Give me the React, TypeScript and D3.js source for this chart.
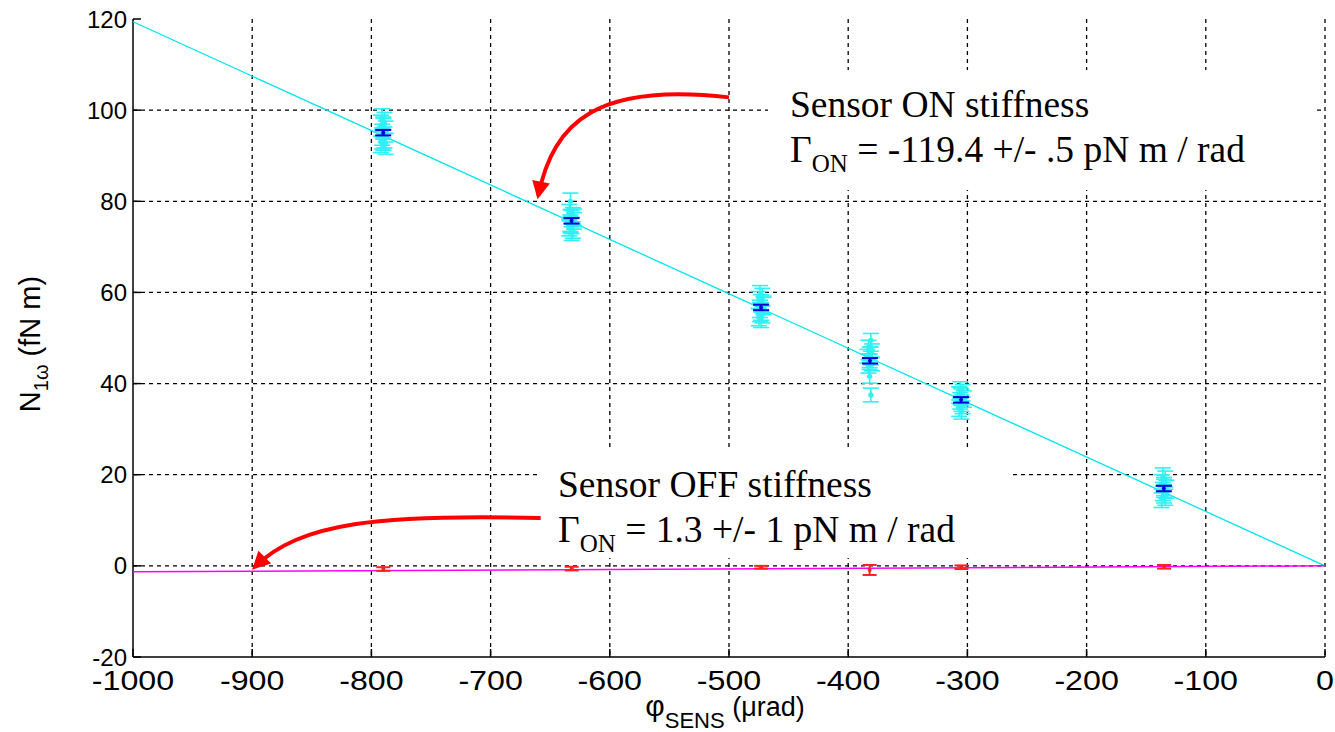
import React from 'react';
import * as d3 from 'd3';

// Axis ticks
const xTicks = [-1000, -900, -800, -700, -600, -500, -400, -300, -200, -100, 0];
const yTicks = [-20, 0, 20, 40, 60, 80, 100, 120];

// Sensor ON: individual torque measurements at each actuation setting (phi in µrad, torque in fN m)
const onPhi = [
  [-791, -789, -792, -790, -788, -791, -789, -790, -792, -788, -790, -791],
  [-633, -634, -631, -632, -630, -633, -632, -634, -631, -632, -630, -633],
  [-474, -472, -475, -473, -471, -474, -473, -472, -475, -473, -471, -474],
  [-381, -383, -380, -382, -384, -381, -382, -380, -383, -382, -381],
  [-306, -304, -307, -305, -303, -306, -305, -304, -307, -305, -306],
  [-136, -134, -137, -135, -133, -136, -135, -134, -137, -135],
];
const onTorque = [
  [98.0, 97.2, 96.6, 95.9, 95.3, 94.6, 94.0, 93.5, 93.0, 92.6, 96.2, 93.8],
  [80.0, 77.5, 76.8, 76.2, 75.7, 75.2, 74.7, 74.2, 73.7, 73.2, 76.5, 74.9],
  [59.6, 59.0, 58.3, 57.6, 57.0, 56.4, 55.8, 55.2, 54.6, 54.2, 57.3, 55.5],
  [49.5, 48.0, 47.2, 46.5, 46.0, 45.6, 45.0, 44.3, 43.8, 41.6, 37.5],
  [38.6, 38.0, 37.5, 37.0, 36.6, 36.2, 35.7, 35.2, 34.6, 34.0, 37.3],
  [19.5, 18.8, 18.0, 17.4, 16.8, 16.3, 15.8, 15.3, 14.8, 17.0],
];
const onErr = [2.3, 1.8, 1.9, 1.5, 1.8, 2.0];
const meanErr = [0.6, 0.6, 0.6, 0.6, 0.6, 0.6];

// Sensor OFF: averaged torque at each setting
const offPhi = [-790, -632, -473, -382, -305, -135];
const offTorque = [-0.7, -0.6, -0.3, -0.9, -0.3, -0.2];
const offErr = [0.4, 0.4, 0.3, 1.1, 0.4, 0.4];

// Fitted stiffness (pN m / rad); torque[fN m] = gamma * phi[µrad] * 1e-3
const gammaOn = -119.4;
const gammaOff = 1.3;
const fitRange = [-1000, 0];

// Annotation arrows: [start, tip] in data units
const arrowOn = { from: [-500, 102.8], tip: [-660, 81.2] };
const arrowOff = { from: [-658, 10.5], tip: [-898, -0.3] };

const W = 1335;
const H = 732;

export default function App() {
  const x = d3.scaleLinear().domain([-1000, 0]).range([133, 1325]);
  const y = d3.scaleLinear().domain([-20, 120]).range([657, 19]);

  const fitPath = (gamma: number) =>
    d3
      .line<number>()
      .x((p) => x(p))
      .y((p) => y(gamma * p * 1e-3))(fitRange) as string;

  const curve = (a: { from: number[]; tip: number[] }, c1: number[], c2: number[]) => {
    const p0 = [x(a.from[0]), y(a.from[1])];
    const p3 = [x(a.tip[0]), y(a.tip[1])];
    const path = d3.path();
    path.moveTo(p0[0], p0[1]);
    path.bezierCurveTo(p0[0] + c1[0], p0[1] + c1[1], p3[0] + c2[0], p3[1] + c2[1], p3[0], p3[1]);
    return path.toString();
  };

  const errBar = (px: number, t: number, e: number, color: string, key: string, sw = 1.5, cap = 8) => (
    <g key={key} stroke={color} strokeWidth={sw}>
      <line x1={px} x2={px} y1={y(t + e)} y2={y(t - e)} />
      <line x1={px - cap} x2={px + cap} y1={y(t + e)} y2={y(t + e)} />
      <line x1={px - cap} x2={px + cap} y1={y(t - e)} y2={y(t - e)} />
    </g>
  );

  const tickFont = "'Liberation Sans', Arial, sans-serif";
  const serif = "'Liberation Serif', 'Times New Roman', serif";
  const cyan = '#2ef0f5';

  return (
    <svg
      width={W}
      height={H}
      style={{ position: 'absolute', left: 0, top: 0, background: '#fff' }}
    >
      <defs>
        <marker
          id="redHead"
          viewBox="0 0 10 10"
          refX="8"
          refY="5"
          markerWidth="20"
          markerHeight="18"
          markerUnits="userSpaceOnUse"
          orient="auto"
        >
          <path d="M0,0 L10,5 L0,10 z" fill="#ff0000" />
        </marker>
      </defs>

      {/* grid */}
      <g stroke="#000" strokeWidth={1.3} strokeDasharray="4,4">
        {xTicks.slice(1).map((t) => (
          <line key={'gx' + t} x1={x(t)} x2={x(t)} y1={y(120)} y2={y(-20)} />
        ))}
        {yTicks.slice(1, -1).map((t) => (
          <line key={'gy' + t} x1={x(-1000)} x2={x(0)} y1={y(t)} y2={y(t)} />
        ))}
      </g>

      {/* axes */}
      <g stroke="#000" strokeWidth={1.5}>
        <line x1={x(-1000)} x2={x(-1000)} y1={y(120)} y2={y(-20)} />
        <line x1={x(-1000)} x2={x(0)} y1={y(-20)} y2={y(-20)} />
        {xTicks.map((t) => (
          <line key={'tx' + t} x1={x(t)} x2={x(t)} y1={y(-20)} y2={y(-20) - 8} />
        ))}
        {yTicks.map((t) => (
          <line key={'ty' + t} x1={x(-1000)} x2={x(-1000) + 8} y1={y(t)} y2={y(t)} />
        ))}
      </g>

      {/* tick labels */}
      <g fontFamily={tickFont} fontSize={24} fill="#000">
        {yTicks.map((t) => (
          <text key={'ly' + t} x={x(-1000) - 6} y={y(t)} dy="0.36em" textAnchor="end">
            {t}
          </text>
        ))}
      </g>
      <g fontFamily={tickFont} fontSize={28} fill="#000">
        {xTicks.map((t) => (
          <text
            key={'lx' + t}
            transform={`translate(${x(t)}, ${y(-20) + 33}) scale(1.15, 1)`}
            textAnchor="middle"
          >
            {t}
          </text>
        ))}
      </g>

      {/* axis titles */}
      <text
        transform={`translate(40, ${(y(120) + y(-20)) / 2 + 6}) rotate(-90)`}
        fontFamily={tickFont}
        fontSize={29}
        textAnchor="middle"
      >
        N<tspan fontSize={20} dy={8}>1ω</tspan>
        <tspan dy={-8}> (fN m)</tspan>
      </text>
      <text x={(x(-1000) + x(0)) / 2 - 4} y={716} fontFamily={tickFont} fontSize={30} textAnchor="middle">
        φ<tspan fontSize={22} dy={12}>SENS</tspan>
        <tspan dy={-12} fontSize={27}> (μrad)</tspan>
      </text>

      {/* fit lines */}
      <path d={fitPath(gammaOn)} stroke="#00e5ee" strokeWidth={1.3} fill="none" />
      <path d={fitPath(gammaOff)} stroke="#ff00ff" strokeWidth={1.5} fill="none" />

      {/* sensor ON measurements */}
      {onTorque.map((grp, gi) => (
        <g key={'on' + gi}>
          {grp.map((t, i) => errBar(x(onPhi[gi][i]), t, onErr[gi], cyan, `e${gi}-${i}`, 1.6, 8))}
          {grp.map((t, i) => (
            <circle key={`p${gi}-${i}`} cx={x(onPhi[gi][i])} cy={y(t)} r={2.6} fill={cyan} />
          ))}
        </g>
      ))}
      {/* sensor ON means */}
      {onTorque.map((grp, gi) => {
        const mx = x(d3.mean(onPhi[gi]) as number);
        const my = d3.mean(grp) as number;
        return (
          <g key={'m' + gi}>
            {errBar(mx, my, meanErr[gi], '#0000d8', 'me' + gi, 2, 8)}
            <circle cx={mx} cy={y(my)} r={2} fill="#0000d8" />
          </g>
        );
      })}

      {/* sensor OFF measurements */}
      {offTorque.map((t, i) => (
        <g key={'off' + i}>
          {errBar(x(offPhi[i]), t, offErr[i], '#ff2020', 'oe' + i, 2, 7)}
          <circle cx={x(offPhi[i])} cy={y(t)} r={2} fill="#ff2020" />
        </g>
      ))}

      {/* annotation boxes */}
      <rect x={768} y={70} width={548} height={120} fill="#fff" />
      <g fontFamily={serif} fill="#000">
        <text x={790} y={117} fontSize={37.5}>Sensor ON stiffness</text>
        <text x={790} y={162} fontSize={37.5}>
          Γ<tspan fontSize={25} dy={10}>ON</tspan>
          <tspan dy={-10}> = -119.4 +/- .5 pN m / rad</tspan>
        </text>
      </g>
      <rect x={538} y={448} width={475} height={110} fill="#fff" />
      <g fontFamily={serif} fill="#000">
        <text x={558} y={497} fontSize={37.5}>Sensor OFF stiffness</text>
        <text x={558} y={542} fontSize={37.5}>
          Γ<tspan fontSize={25} dy={10}>ON</tspan>
          <tspan dy={-10}> = 1.3 +/- 1 pN m / rad</tspan>
        </text>
      </g>

      {/* arrows */}
      <path
        d={curve(arrowOn, [-130, -15], [15, -75])}
        stroke="#ff0000"
        strokeWidth={4}
        fill="none"
        markerEnd="url(#redHead)"
      />
      <path
        d={curve(arrowOff, [-160, -4], [45, -45])}
        stroke="#ff0000"
        strokeWidth={4}
        fill="none"
        markerEnd="url(#redHead)"
      />
    </svg>
  );
}
